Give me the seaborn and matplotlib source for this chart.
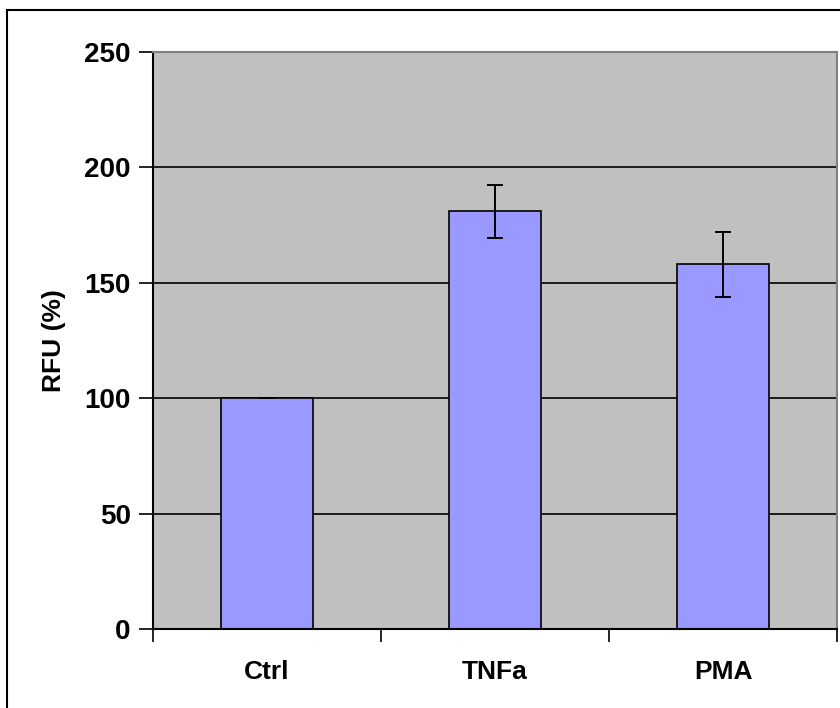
import numpy as np
import pandas as pd
import matplotlib
matplotlib.use("Agg")
import matplotlib.pyplot as plt
import seaborn as sns
from matplotlib.patches import Rectangle

# data
groups = ["Ctrl", "TNFa", "PMA"]
rfu = [100.0, 181.0, 158.0]
err = [0.0, 11.5, 14.0]

df = pd.DataFrame({"group": groups, "rfu": rfu, "err": err})

sns.set_theme(style="white")
plt.rcParams["font.family"] = ["Liberation Sans", "DejaVu Sans"]
plt.rcParams["font.weight"] = "bold"
plt.rcParams["text.color"] = "black"
plt.rcParams["axes.labelcolor"] = "black"
plt.rcParams["xtick.color"] = "black"
plt.rcParams["ytick.color"] = "black"

fig = plt.figure(figsize=(8.4, 7.08), dpi=100)
ax = fig.add_axes([153 / 840, 1 - 629 / 708, (837 - 153) / 840, (629 - 52) / 708])

ax.set_facecolor("#C0C0C0")
ax.set_axisbelow(True)
ax.yaxis.grid(True, color="black", linewidth=1.2)
ax.xaxis.grid(False)

sns.barplot(data=df, x="group", y="rfu", color="#9999FF", saturation=1,
            width=0.405, edgecolor="black", linewidth=1.2, errorbar=None, ax=ax)
ax.errorbar(np.arange(len(groups)), df["rfu"], yerr=df["err"], fmt="none",
            ecolor="black", elinewidth=1.4, capsize=5.5, capthick=1.4, zorder=5)

ax.set_ylim(0, 250)
ax.set_xlim(-0.5, 2.5)
ax.set_yticks([0, 50, 100, 150, 200, 250])
ax.set_xticks(range(len(groups)))
ax.set_xticklabels(groups)
ax.set_xticks([-0.5, 0.5, 1.5, 2.5], minor=True)
ax.tick_params(axis="x", which="major", length=0, pad=22, labelsize=19)
ax.tick_params(axis="x", which="minor", length=9, width=1.2, color="black",
               direction="out", bottom=True)
ax.tick_params(axis="y", length=10, width=1.2, color="black", direction="out",
               left=True, labelsize=20, pad=6)
for lab in ax.get_xticklabels() + ax.get_yticklabels():
    lab.set_fontweight("bold")
    lab.set_color("black")

ax.set_xlabel("")
ax.set_ylabel("RFU (%)", fontsize=19, fontweight="bold", labelpad=13,
              color="black")

for s in ["left", "bottom"]:
    ax.spines[s].set_color("black")
    ax.spines[s].set_linewidth(1.5)
for s in ["top", "right"]:
    ax.spines[s].set_color("#808080")
    ax.spines[s].set_linewidth(1.5)

# outer chart frame (runs off the right and bottom edge)
fig.patches.append(Rectangle((7 / 840, -0.05), 1.0, 1 - 10 / 708 + 0.05,
                             transform=fig.transFigure, fill=False,
                             edgecolor="black", linewidth=1.5))

fig.savefig("out.png", dpi=100)
